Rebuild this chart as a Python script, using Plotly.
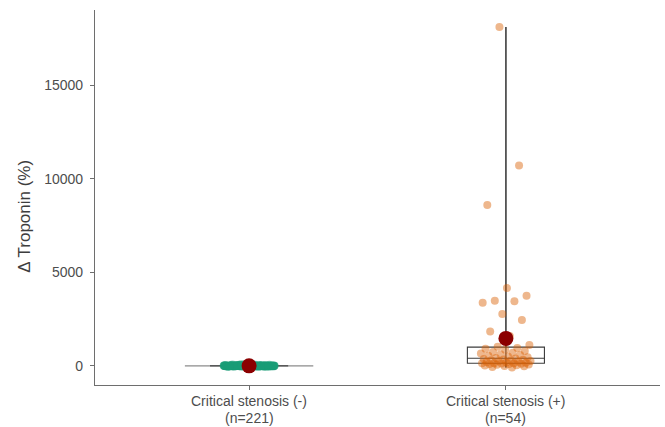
import numpy as np
import plotly.graph_objects as go

# ---------------- data ----------------
categories = ["Critical stenosis (-)", "Critical stenosis (+)"]
group_n = [221, 54]

minus_values = [
    -12, 5, 0, 23, -40, 8, 15, -3, 60, 2, -25, 11, 34, -7, 0, 19, -55, 4, 27, -1,
    9, -18, 42, 3, -6, 0, 14, 71, -30, 6, 1, -9, 22, 38, -14, 0, 7, -48, 16, 3,
    -2, 29, 10, -21, 50, 0, 5, -11, 18, 2, -35, 13, 0, 44, -4, 8, 26, -16, 1, 12,
    33, -8, 0, 6, -27, 17, 90, -1, 4, 21, -13, 0, 9, 52, -38, 3, 15, -5, 0, 28,
    -19, 7, 40, 1, -10, 24, 0, -3, 11, 65, -22, 6, 2, -44, 18, 0, 31, -6, 13, 4,
    0, -15, 20, 8, -28, 47, 3, -2, 12, 0, 36, -9, 5, -60, 25, 1, -17, 10, 0, 57,
    -4, 14, 2, -33, 30, 0, 7, -12, 19, 85, -1, 4, -24, 16, 0, 39, -7, 11, 3, -46,
    22, 0, -5, 9, 48, -20, 1, 13, -11, 0, 27, -3, 6, 75, -36, 2, 17, -8, 0, 35,
    -14, 5, 0, 43, -26, 10, 3, -2, 21, 0, -52, 15, 8, -6, 32, 1, -18, 12, 0, 54,
    -9, 24, 4, -31, 0, 16, 6, -4, 37, 2, -15, 9, 0, 68, -23, 11, 1, -10, 28, 0,
    3, -41, 18, 7, -1, 45, 0, -13, 14, 5, -29, 26, 2, -7, 0, 20, -16, 9, 62, 1,
    -3,
]

plus_values = [
    -80, -50, -20, 0, 20, 40, 60, 80, 100, 110, 120, 130, 140, 145,
    150, 170, 190, 210, 230, 250, 270, 290, 310, 330, 350, 370, 400,
    425, 460, 500, 540, 580, 620, 660, 700, 750, 800, 860, 920, 960, 1020,
    1120, 1600, 1840, 2460, 2780, 3370, 3450, 3480, 3750, 4160, 8600, 10700, 18100,
]

y_ticks = [0, 5000, 10000, 15000]
y_ticktext = ["0", "5000", "10000", "15000"]
y_title = "Δ Troponin (%)"

# ---------------- styling ----------------
GREEN = "#1B9E77"
ORANGE = "#D95F02"
MEAN_COL = "#8B0000"
AXIS_COL = "#6e6e6e"
BOX_COL = "#3c3c3c"
TEXT_COL = "#4d4d4d"
FONT = "Liberation Sans, Arial, sans-serif"

groups = [np.array(minus_values, float), np.array(plus_values, float)]
colors = [GREEN, ORANGE]


def jitter(n, half_width=0.1):
    # deterministic low-discrepancy spread (golden-ratio sequence)
    k = np.arange(1, n + 1)
    return ((k * 0.6180339887) % 1.0 - 0.5) * 2 * half_width


fig = go.Figure()

for gi, vals in enumerate(groups):
    q1, med, q3 = np.percentile(vals, [25, 50, 75])
    vmin, vmax = vals.min(), vals.max()
    fig.add_trace(go.Box(
        x=[gi], q1=[q1], median=[med], q3=[q3],
        lowerfence=[vmin], upperfence=[vmax],
        width=0.3, whiskerwidth=0,
        fillcolor="rgba(0,0,0,0)",
        line=dict(color=BOX_COL, width=1.1),
        boxpoints=False, hoverinfo="skip", showlegend=False,
    ))
    fig.add_trace(go.Scatter(
        x=[gi, gi], y=[vmin, vmax], mode="lines",
        line=dict(color=BOX_COL, width=1.1),
        hoverinfo="skip", showlegend=False,
    ))
    if gi == 0:
        fig.add_trace(go.Scatter(
            x=[gi - 0.25, gi + 0.25], y=[med, med], mode="lines",
            line=dict(color=AXIS_COL, width=1),
            hoverinfo="skip", showlegend=False,
        ))
    fig.add_trace(go.Scatter(
        x=gi + jitter(len(vals)), y=vals, mode="markers",
        marker=dict(color=colors[gi], size=8, opacity=0.45, line=dict(width=0)),
        hoverinfo="skip", showlegend=False,
    ))

fig.add_trace(go.Scatter(
    x=[0, 1], y=[g.mean() for g in groups], mode="markers",
    marker=dict(color=MEAN_COL, size=15, line=dict(width=0)),
    hoverinfo="skip", showlegend=False,
))

annotations = [dict(
    text=y_title, textangle=-90, xref="paper", yref="paper",
    x=-0.125, y=0.45, xanchor="center", yanchor="middle",
    showarrow=False, font=dict(size=17, color="#3d3d3d", family=FONT),
)]
for i, (c, n) in enumerate(zip(categories, group_n)):
    annotations.append(dict(
        text=c, xref="x", yref="paper", x=i, y=-0.015, yanchor="top",
        xanchor="center", showarrow=False,
        font=dict(size=14, color=TEXT_COL, family=FONT),
    ))
    annotations.append(dict(
        text=f"(n={n})", xref="x", yref="paper", x=i, y=-0.0625, yanchor="top",
        xanchor="center", showarrow=False,
        font=dict(size=14, color=TEXT_COL, family=FONT),
    ))

fig.update_layout(
    width=665, height=427,
    margin=dict(l=95, r=5, t=10, b=42),
    paper_bgcolor="white", plot_bgcolor="white",
    font=dict(family=FONT, size=14, color=TEXT_COL),
    xaxis=dict(
        range=[-0.6, 1.6], tickvals=[0, 1], ticktext=["", ""],
        showgrid=False, zeroline=False, showline=True, automargin=False,
        linecolor=AXIS_COL, linewidth=1.2,
        ticks="outside", ticklen=4, tickcolor=AXIS_COL, tickwidth=1.2,
    ),
    yaxis=dict(
        range=[-1017, 19010], tickvals=y_ticks, ticktext=y_ticktext,
        showgrid=False, zeroline=False, showline=True, automargin=False,
        linecolor=AXIS_COL, linewidth=1.2,
        ticks="outside", ticklen=4, tickcolor=AXIS_COL, tickwidth=1.2,
        tickfont=dict(size=14, color=TEXT_COL),
        ticklabelstandoff=4,
    ),
    annotations=annotations,
)

fig.write_html(
    "out.html",
    config={"displayModeBar": False},
    post_script="document.body.style.margin='0';document.body.style.overflow='hidden';",
)
